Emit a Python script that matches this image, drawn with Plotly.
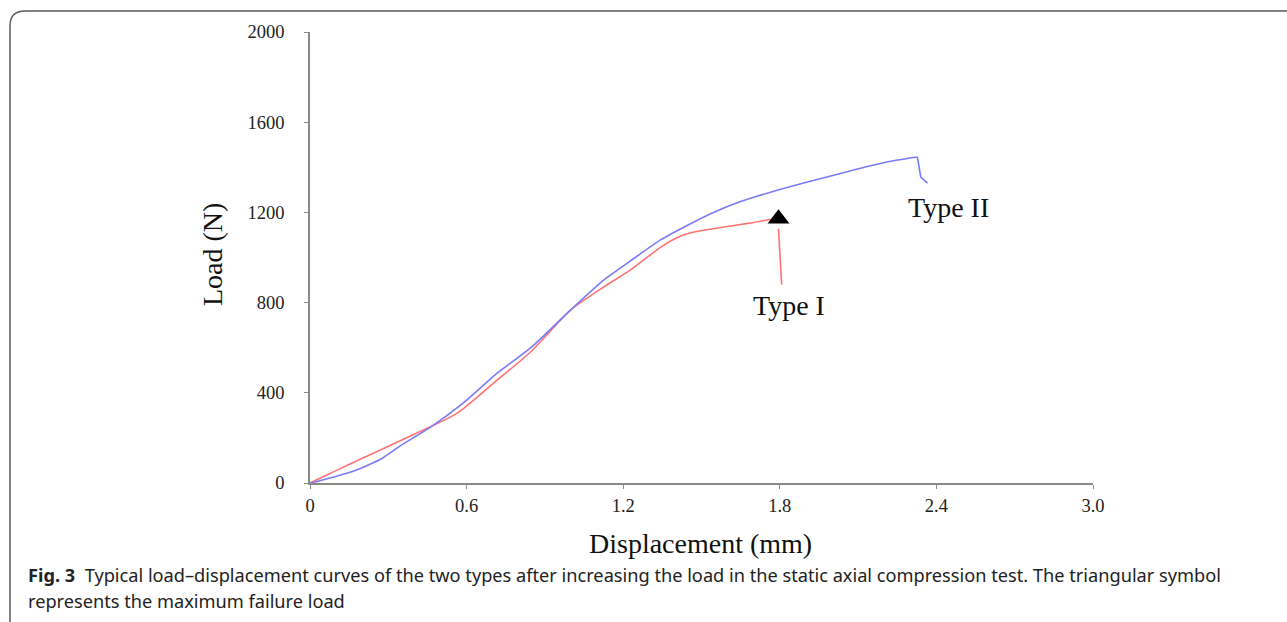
import plotly.graph_objects as go

# ---- data ----
type2_disp = [0, 0.03, 0.144, 0.2, 0.27, 0.35, 0.462, 0.588, 0.718, 0.845, 0.998, 1.125,
              1.228, 1.343, 1.458, 1.55, 1.65, 1.78, 1.906, 2.04, 2.16, 2.25, 2.327, 2.34, 2.366]
type2_load = [0, 8, 44, 68, 105, 168, 248, 355, 488, 599, 767, 900,
              985, 1078, 1150, 1202, 1248, 1295, 1335, 1375, 1410, 1432, 1446, 1357, 1330]

type1_disp = [0, 0.1, 0.2, 0.27, 0.35, 0.435, 0.55, 0.588, 0.718, 0.845, 0.998, 1.125,
              1.228, 1.343, 1.42, 1.485, 1.585, 1.688, 1.765]
type1_load = [0, 55, 110, 146, 190, 235, 300, 330, 457, 581, 767, 869,
              945, 1045, 1095, 1116, 1135, 1153, 1170]

peak_disp = [1.795]
peak_load = [1172]

x_ticks = [0, 0.6, 1.2, 1.8, 2.4, 3.0]
x_ticktext = ["0", "0.6", "1.2", "1.8", "2.4", "3.0"]
y_ticks = [0, 400, 800, 1200, 1600, 2000]

W, H = 1287, 622
L, R, T, B = 310, 1093, 32, 483  # plot area in pixels


def px(x):
    return (x - L) / (R - L)


def py(y):
    return (B - y) / (B - T)


serif = "Liberation Serif, Times New Roman, serif"
capfont = "Noto Sans, sans-serif"

fig = go.Figure()
fig.add_trace(go.Scatter(x=type1_disp, y=type1_load, mode="lines",
                         line=dict(color="#ff7272", width=1.6, shape="spline", smoothing=0.6),
                         showlegend=False))
fig.add_trace(go.Scatter(x=type2_disp[:-2], y=type2_load[:-2], mode="lines",
                         line=dict(color="#7b7bf5", width=1.6, shape="spline", smoothing=0.6),
                         showlegend=False))
fig.add_trace(go.Scatter(x=type2_disp[-3:], y=type2_load[-3:], mode="lines",
                         line=dict(color="#7b7bf5", width=1.6),
                         showlegend=False))
fig.add_trace(go.Scatter(x=peak_disp, y=peak_load, mode="markers",
                         marker=dict(symbol="triangle-up", size=19, color="black"),
                         showlegend=False))

# pointer line from marker to "Type I" label
fig.add_shape(type="line", xref="x", yref="y",
              x0=peak_disp[0], y0=peak_load[0] - 45, x1=peak_disp[0] + 0.012, y1=880,
              line=dict(color="#ff7272", width=1.6))

fig.add_annotation(x=1.837, y=789, xref="x", yref="y", text="Type I", showarrow=False,
                   xanchor="center", yanchor="middle",
                   font=dict(family=serif, size=28, color="#111"))
fig.add_annotation(x=2.445, y=1220, xref="x", yref="y", text="Type II", showarrow=False,
                   xanchor="center", yanchor="middle",
                   font=dict(family=serif, size=28, color="#111"))

# axis titles
fig.add_annotation(x=px(212), y=py(255), xref="paper", yref="paper", text="Load (N)",
                   showarrow=False, textangle=-90, xanchor="center", yanchor="middle",
                   font=dict(family=serif, size=28, color="#111"))
fig.add_annotation(x=px(700), y=py(543), xref="paper", yref="paper", text="Displacement (mm)",
                   showarrow=False, xanchor="center", yanchor="middle",
                   font=dict(family=serif, size=28, color="#111"))

# caption
cap1 = ("<b>Fig. 3</b>  Typical load–displacement curves of the two types after increasing the load "
        "in the static axial compression test. The triangular symbol")
cap2 = "represents the maximum failure load"
fig.add_annotation(x=px(26), y=py(575), xref="paper", yref="paper", text=cap1,
                   showarrow=False, xanchor="left", yanchor="middle",
                   font=dict(family=capfont, size=18.2, color="#222"))
fig.add_annotation(x=px(26), y=py(601), xref="paper", yref="paper", text=cap2,
                   showarrow=False, xanchor="left", yanchor="middle",
                   font=dict(family=capfont, size=18.2, color="#222"))

# frame with rounded top-left corner
path = (f"M {px(10)},{py(640)} L {px(10)},{py(26)} "
        f"Q {px(10)},{py(11)} {px(25)},{py(11)} L {px(1300)},{py(11)}")
fig.add_shape(type="path", xref="paper", yref="paper", path=path,
              line=dict(color="#5a5a5a", width=1.5))

axis_common = dict(showline=True, linecolor="#8a8a8a", linewidth=1.5, ticks="outside",
                   ticklen=4, tickwidth=1.2, tickcolor="#8a8a8a", showgrid=False,
                   zeroline=False, tickfont=dict(family=serif, size=18.5, color="#222"))

fig.update_xaxes(range=[0, 3], tickvals=x_ticks, ticktext=x_ticktext,
                 ticklabelstandoff=1, **axis_common)
fig.update_yaxes(range=[0, 2000], tickvals=y_ticks, ticklabelstandoff=16, **axis_common)

fig.update_layout(width=W, height=H, autosize=False,
                  margin=dict(l=L, r=W - R, t=T, b=H - B),
                  plot_bgcolor="white", paper_bgcolor="white")

fig.write_html("out.html")
